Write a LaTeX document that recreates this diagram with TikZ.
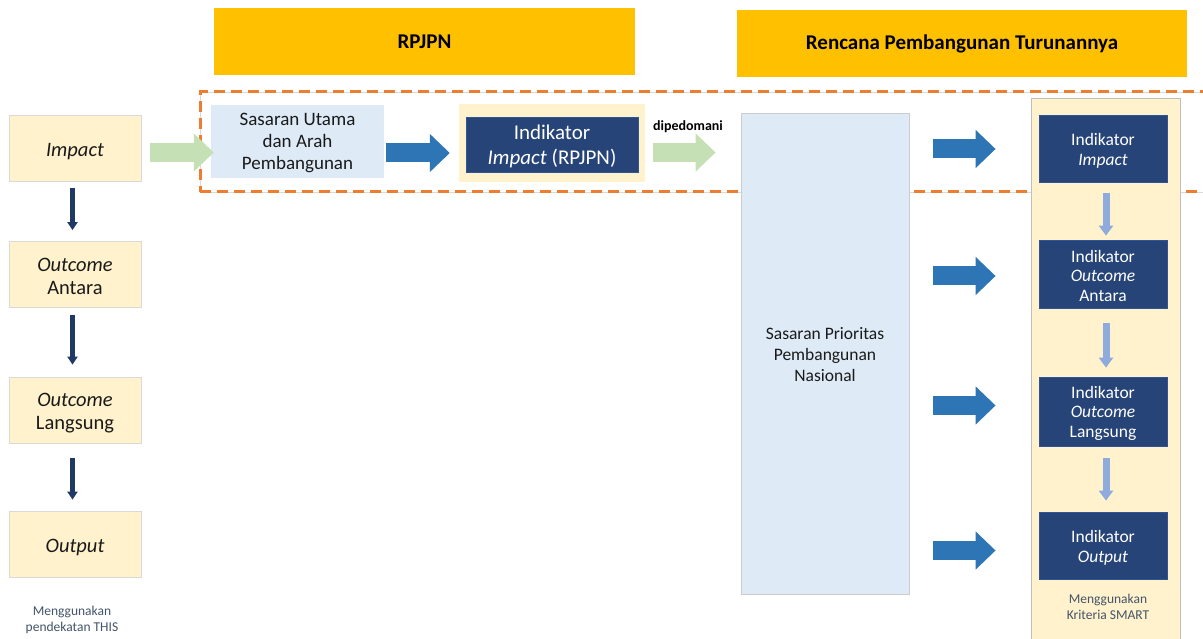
\documentclass[tikz,border=0pt]{standalone}
\usepackage{fontspec}
\setmainfont{Carlito}
\usetikzlibrary{arrows.meta,calc}
\definecolor{cgold}{HTML}{FFC000}
\definecolor{cyellow}{HTML}{FFF2CC}
\definecolor{cpblue}{HTML}{DEEBF7}
\definecolor{cnavy}{HTML}{264478}
\definecolor{cnavyedge}{HTML}{2F5597}
\definecolor{cbarrow}{HTML}{2E75B6}
\definecolor{cgarrow}{HTML}{C5E0B4}
\definecolor{clarrow}{HTML}{8FAADC}
\definecolor{cdarrow}{HTML}{203864}
\definecolor{corange}{HTML}{ED7D31}
\definecolor{cnote}{HTML}{44546A}
\definecolor{ctxt}{HTML}{1A1A1A}
\newcommand\topgap[1]{\rule{0pt}{\dimexpr\fontcharht\font`I+#1\relax}}
\begin{document}
\begin{tikzpicture}[x=1pt,y=-1pt,
  hdr/.style={fill=cgold, text=black, inner sep=0pt, font=\bfseries\fontsize{21}{25}\selectfont},
  ybox/.style={fill=cyellow, draw=black!15, line width=0.8pt, minimum width=132pt, minimum height=66pt,
    inner sep=0pt, align=center, text=ctxt, font=\fontsize{20.5}{23.5}\selectfont},
  bbox/.style={fill=cpblue, inner sep=0pt, align=center, text=ctxt},
  nbox/.style={fill=cnavy, draw=cnavyedge, line width=0.8pt, text=white, align=center, inner sep=0pt,
    minimum width=128pt, font=\fontsize{17.5}{19.5}\selectfont},
  notetext/.style={text=cnote, align=center, inner sep=0pt, font=\fontsize{13.5}{15.5}\selectfont},
  blk/.style={line width=19pt, -{Triangle[width=37pt,length=20pt]}},
  garr/.style={blk, draw=cgarrow},
  barr/.style={blk, draw=cbarrow},
  larr/.style={draw=clarrow, line width=7pt, -{Triangle[width=14pt,length=10pt]}},
  darr/.style={draw=cdarrow, line width=4.5pt, -{Triangle[width=10pt,length=8pt]}}
]
\path[use as bounding box] (0,0) rectangle (1203,639);
\clip (0,0) rectangle (1203,639);

% headers
\node[hdr, minimum width=421pt, minimum height=67pt] (h1) at (424.5,41.5) {RPJPN};
\node[hdr, minimum width=450pt, minimum height=67pt] (h2) at (962,43.5) {Rencana Pembangunan Turunannya};

% dashed frame
\draw[black!15, line width=1pt] (200,93) rectangle (1225,193);
\node[draw=corange, line width=3pt, dash pattern=on 11pt off 6pt, minimum width=1025pt, minimum height=100pt, inner sep=0pt] (frame) at (712.5,142) {};

% left column
\node[ybox] (imp) at (75,148) {\topgap{8pt}\itshape Impact};
\node[ybox] (oa) at (75,274.5) {\topgap{4pt}\textit{Outcome}\\Antara};
\node[ybox] (ol) at (75,410) {\topgap{6pt}\textit{Outcome}\\Langsung};
\node[ybox] (out) at (75,544) {\topgap{8pt}\itshape Output};
\node[notetext] (thisn) at (72,620) {Menggunakan\\pendekatan THIS};

% RPJPN row
\node[bbox, minimum width=173pt, minimum height=73pt, font=\fontsize{19}{22}\selectfont] (sas) at (297.5,141.5) {\topgap{4pt}Sasaran Utama\\dan Arah\\Pembangunan};
\node[fill=cyellow, minimum width=186pt, minimum height=78pt, inner sep=0pt] (iry) at (552,143) {};
\node[nbox, minimum width=172pt, minimum height=55pt, font=\fontsize{21}{25}\selectfont] (ir) at (552,144.5) {\topgap{5pt}Indikator\\\textit{Impact} (RPJPN)};
\node[font=\bfseries\fontsize{14}{16}\selectfont, text=black, inner sep=0pt] (dip) at (688,127) {dipedomani};

% Sasaran prioritas
\node[bbox, draw=black!20, line width=0.8pt, minimum width=168pt, minimum height=481pt, font=\fontsize{17.5}{21}\selectfont] (spn) at (825,353.5) {\topgap{2pt}Sasaran Prioritas\\Pembangunan\\Nasional};

% right column
\node[fill=cyellow, draw=black!25, line width=0.8pt, minimum width=149pt, minimum height=560pt, inner sep=0pt] (rcol) at (1105.5,378) {};
\node[nbox, minimum height=67pt] (ri) at (1103,148.5) {\topgap{6pt}Indikator\\\textit{Impact}};
\node[nbox, minimum height=68pt] (ra) at (1103,274) {\topgap{4pt}Indikator\\\textit{Outcome}\\Antara};
\node[nbox, minimum height=69pt] (rl) at (1103,411.5) {\topgap{4pt}Indikator\\\textit{Outcome}\\Langsung};
\node[nbox, minimum height=67pt] (ro) at (1103,545.5) {\topgap{6pt}Indikator\\\textit{Output}};
\node[notetext] (smart) at (1108,607) {Menggunakan\\Kriteria SMART};

% block arrows
\draw[garr] ($(imp.east)+(9,4.5)$) -- ($(imp.east -| sas.west)+(3,4.5)$);
\draw[barr] ($(sas.east)+(2,11.5)$) -- ($(sas.east -| iry.west)+(-9,11.5)$);
\draw[garr] ($(iry.east)+(8,9.5)$) -- ($(iry.east -| spn.west)+(-25,9.5)$);
\draw[barr] ($(ri.west -| spn.east)+(24,0.5)$) -- ($(ri.west)+(-43,0.5)$);
\draw[barr] ($(ra.west -| spn.east)+(24,2)$) -- ($(ra.west)+(-43,2)$);
\draw[barr] ($(rl.west -| spn.east)+(24,-6)$) -- ($(rl.west)+(-43,-6)$);
\draw[barr] ($(ro.west -| spn.east)+(24,5)$) -- ($(ro.west)+(-43,5)$);

% left thin arrows
\draw[darr] ($(imp.south)+(-2.5,7)$) -- ($(oa.north)+(-2.5,-11)$);
\draw[darr] ($(oa.south)+(-2.5,7)$) -- ($(ol.north)+(-2.5,-12)$);
\draw[darr] ($(ol.south)+(-2.5,15)$) -- ($(out.north)+(-2.5,-11)$);

% right thin arrows
\draw[larr] ($(ri.south)+(3,11)$) -- ($(ra.north)+(3,-4)$);
\draw[larr] ($(ra.south)+(3,15)$) -- ($(rl.north)+(3,-9)$);
\draw[larr] ($(rl.south)+(3,12)$) -- ($(ro.north)+(3,-11)$);
\end{tikzpicture}
\end{document}
